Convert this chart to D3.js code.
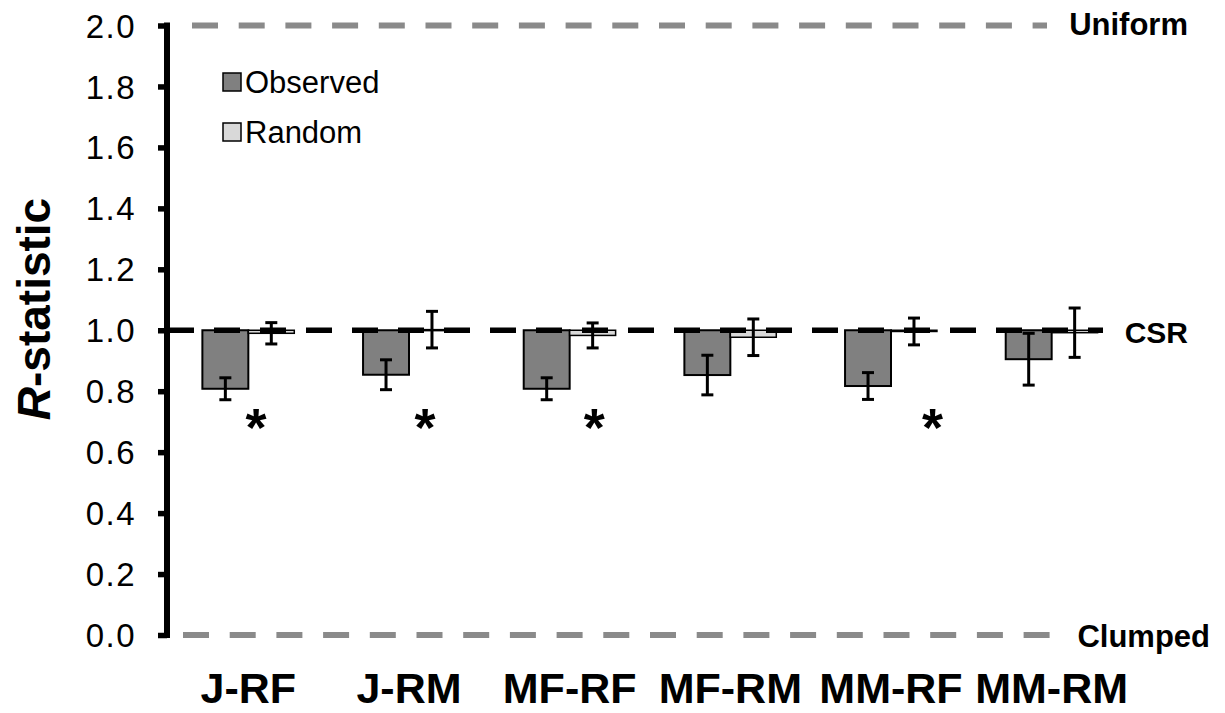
<!DOCTYPE html>
<html>
<head>
<meta charset="utf-8">
<script src="https://cdn.jsdelivr.net/npm/d3@7"></script>
<style>
  html, body { margin: 0; padding: 0; background: #fff; }
  svg text { font-family: "Liberation Sans", Arial, sans-serif; }
</style>
</head>
<body>
<svg id="chart" width="1225" height="713"></svg>
<script>
// Pair categories
const categories = ["J-RF", "J-RM", "MF-RF", "MF-RM", "MM-RF", "MM-RM"];

// Mean R-statistic and error half-widths
const observed    = [0.808, 0.854, 0.808, 0.853, 0.817, 0.905];
const observedErr = [0.036, 0.049, 0.036, 0.065, 0.044, 0.085];
const random      = [0.990, 1.002, 0.983, 0.977, 0.996, 0.992];
const randomErr   = [0.035, 0.060, 0.041, 0.060, 0.044, 0.081];

// Observed differs significantly from random
const significant = [true, true, true, false, true, false];

// Axis ticks
const yTicks = [0.0, 0.2, 0.4, 0.6, 0.8, 1.0, 1.2, 1.4, 1.6, 1.8, 2.0];

// Reference levels of the R-statistic
const refValues = [2.0, 1.0, 0.0];
const refLabels = ["Uniform", "CSR", "Clumped"];

const seriesNames = ["Observed", "Random"];
const seriesFill = ["#808080", "#d9d9d9"];

const svg = d3.select("#chart");

const y = d3.scaleLinear().domain([0, 2]).range([635, 25.5]);
const x = d3.scaleBand().domain(categories).range([168, 1132]).padding(0);
const barW = x.step() * 0.286;
const center = c => x(c) + x.bandwidth() / 2;
const axisX = 167;

const rows = categories.map((c, i) => ({
  cat: c, i,
  obs: observed[i], obsErr: observedErr[i],
  rnd: random[i], rndErr: randomErr[i],
  sig: significant[i]
}));

// Bars hang from the 1.0 crossing
const base = 1.0;
const g = svg.append("g");

g.selectAll("rect.obs").data(rows).join("rect")
  .attr("class", "obs")
  .attr("x", d => center(d.cat) - barW)
  .attr("width", barW)
  .attr("y", d => Math.min(y(d.obs), y(base)))
  .attr("height", d => Math.abs(y(d.obs) - y(base)))
  .attr("fill", seriesFill[0])
  .attr("stroke", "#000").attr("stroke-width", 2);

g.selectAll("rect.rnd").data(rows).join("rect")
  .attr("class", "rnd")
  .attr("x", d => center(d.cat))
  .attr("width", barW)
  .attr("y", d => Math.min(y(d.rnd), y(base)))
  .attr("height", d => Math.max(1, Math.abs(y(d.rnd) - y(base))))
  .attr("fill", seriesFill[1])
  .attr("stroke", "#000").attr("stroke-width", 1.5);

// Reference lines
const dash = "26,20.7";
svg.append("line")
  .attr("x1", 192).attr("x2", 1047)
  .attr("y1", y(refValues[0])).attr("y2", y(refValues[0]))
  .attr("stroke", "#8a8a8a").attr("stroke-width", 6).attr("stroke-dasharray", dash);
svg.append("line")
  .attr("x1", 183).attr("x2", 1050)
  .attr("y1", y(refValues[2])).attr("y2", y(refValues[2]))
  .attr("stroke", "#8a8a8a").attr("stroke-width", 6).attr("stroke-dasharray", dash);
svg.append("line")
  .attr("x1", 168).attr("x2", 1103)
  .attr("y1", y(refValues[1])).attr("y2", y(refValues[1]))
  .attr("stroke", "#000").attr("stroke-width", 5.5).attr("stroke-dasharray", "26,20");

// Error bars
function errorBars(cls, cx, val, err) {
  const eg = svg.append("g").attr("class", cls)
    .attr("stroke", "#000").attr("stroke-width", 3);
  eg.selectAll("line.v").data(rows).join("line").attr("class", "v")
    .attr("x1", cx).attr("x2", cx)
    .attr("y1", d => y(val(d) + err(d))).attr("y2", d => y(val(d) - err(d)));
  [1, -1].forEach(s => {
    eg.selectAll("line.c" + (s > 0 ? "t" : "b")).data(rows).join("line")
      .attr("class", "c" + (s > 0 ? "t" : "b"))
      .attr("x1", d => cx(d) - 6).attr("x2", d => cx(d) + 6)
      .attr("y1", d => y(val(d) + s * err(d))).attr("y2", d => y(val(d) + s * err(d)));
  });
}
errorBars("err-obs", d => center(d.cat) - barW / 2, d => d.obs, d => d.obsErr);
errorBars("err-rnd", d => center(d.cat) + barW / 2, d => d.rnd, d => d.rndErr);

// Significance markers
svg.selectAll("text.sig").data(rows.filter(d => d.sig)).join("text")
  .attr("class", "sig")
  .attr("x", d => center(d.cat) + x.step() * (0.047 + 0.053 * d.i))
  .attr("y", 446)
  .attr("text-anchor", "middle")
  .attr("font-weight", "bold")
  .attr("font-size", 54)
  .text("*");

// Y axis
const yAxis = d3.axisLeft(y).tickValues(yTicks).tickFormat(d3.format(".1f"))
  .tickSize(9).tickPadding(22);
const ax = svg.append("g").attr("transform", `translate(${axisX},0)`).call(yAxis);
ax.select(".domain").attr("stroke", "#000").attr("stroke-width", 6)
  .attr("d", `M0,${y(2) - 3}V${y(0) + 3}`);
ax.selectAll(".tick line").attr("stroke", "#000").attr("stroke-width", 5.5)
  .attr("x1", 0);
ax.selectAll(".tick text")
  .attr("font-size", 33).attr("fill", "#000")
  .style("letter-spacing", "1.5px")
  .attr("dy", "0.35em")
  .style("font-family", "'Liberation Sans', Arial, sans-serif");

// Axis title
const title = svg.append("text")
  .attr("transform", `translate(50,309) rotate(-90)`)
  .attr("text-anchor", "middle")
  .attr("font-size", 46).attr("font-weight", "bold");
title.append("tspan").attr("font-style", "italic").text("R");
title.append("tspan").text("-statistic");

// Category labels
svg.selectAll("text.cat").data(categories).join("text")
  .attr("class", "cat")
  .attr("x", c => center(c))
  .attr("y", 703)
  .attr("text-anchor", "middle")
  .attr("font-size", 43).attr("font-weight", "bold")
  .text(c => c);

// Reference labels
svg.append("text").attr("x", 1188).attr("y", 35).attr("text-anchor", "end")
  .attr("font-size", 31).attr("font-weight", "bold").text(refLabels[0]);
svg.append("text").attr("x", 1188).attr("y", 343).attr("text-anchor", "end")
  .attr("font-size", 30).attr("font-weight", "bold").text(refLabels[1]);
svg.append("text").attr("x", 1210).attr("y", 647).attr("text-anchor", "end")
  .attr("font-size", 31).attr("font-weight", "bold").text(refLabels[2]);

// Legend
const lg = svg.append("g");
seriesNames.forEach((name, i) => {
  const cy = 82 + i * 50;
  lg.append("rect").attr("x", 223).attr("y", cy - 9).attr("width", 18).attr("height", 18)
    .attr("fill", seriesFill[i]).attr("stroke", "#000").attr("stroke-width", 1.5);
  lg.append("text").attr("x", 245).attr("y", cy + 11)
    .attr("font-size", 31).text(name);
});
</script>
</body>
</html>
